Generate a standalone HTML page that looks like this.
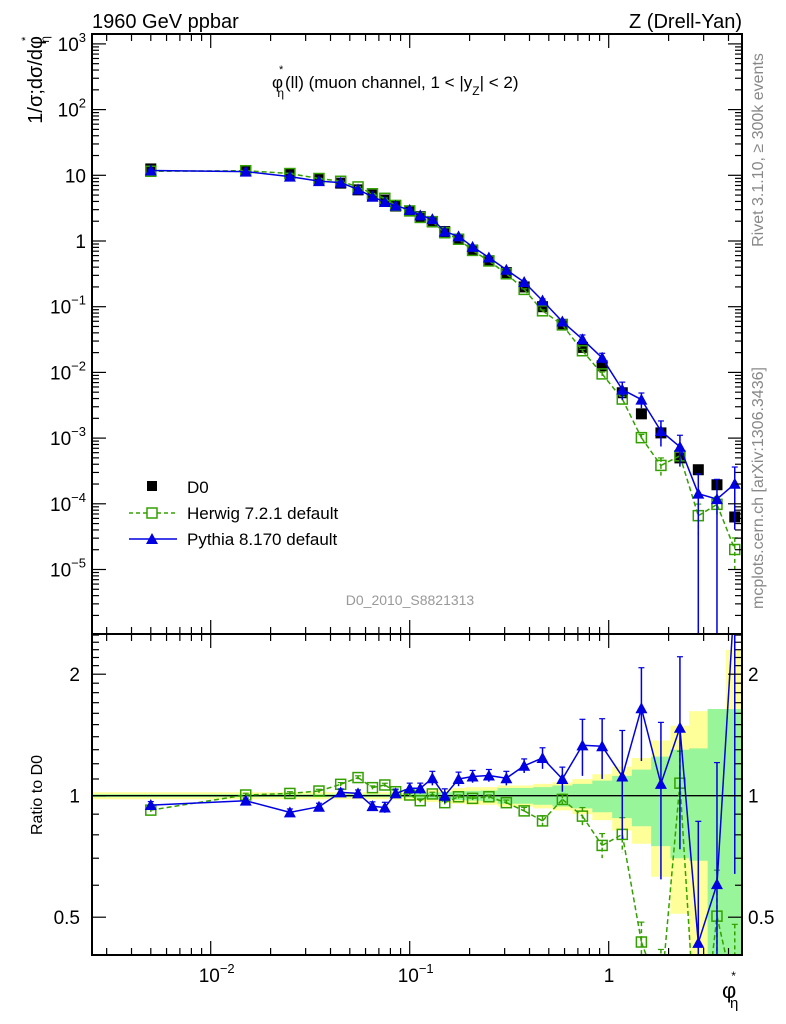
<!DOCTYPE html>
<html><head><meta charset="utf-8"><style>
html,body{margin:0;padding:0;background:#fff;overflow:hidden;}
svg{display:block;font-family:"Liberation Sans",sans-serif;}
</style></head><body>
<svg id="chart" width="786" height="1024" viewBox="0 0 786 1024">
<defs>
<clipPath id="cm"><rect x="92" y="34" width="650" height="600"/></clipPath>
<clipPath id="cr"><rect x="92" y="634" width="650" height="321"/></clipPath>
</defs>
<g id="bands" clip-path="url(#cr)"></g>
<g id="marks"></g>
<g id="axes"></g>
<text x="92" y="28" font-size="20">1960 GeV ppbar</text>
<text x="742" y="28" font-size="20" text-anchor="end">Z (Drell-Yan)</text>
<text x="272" y="88" font-size="17">φ<tspan dx="-4" dy="-15" font-size="11">*</tspan><tspan dx="-6" dy="24" font-size="12">η</tspan><tspan dx="1" dy="-9">(ll) (muon channel, 1 &lt; |y</tspan><tspan dy="7" font-size="12">Z</tspan><tspan dy="-7">| &lt; 2)</tspan></text>
<text x="410" y="605" font-size="14" fill="#999" text-anchor="middle">D0_2010_S8821313</text>
<text transform="translate(42,36) rotate(-90)" font-size="20" text-anchor="end">1/σ;dσ/dφ<tspan dx="-5" dy="-13" font-size="11">*</tspan><tspan dx="-6" dy="20" font-size="12">η</tspan></text>
<text transform="translate(42,795) rotate(-90)" font-size="16" text-anchor="middle">Ratio to D0</text>
<text transform="translate(763,150) rotate(-90)" font-size="16" fill="#888" text-anchor="middle">Rivet 3.1.10, ≥ 300k events</text>
<text transform="translate(763,488) rotate(-90)" font-size="16" fill="#888" text-anchor="middle">mcplots.cern.ch [arXiv:1306.3436]</text>
<text x="722" y="998" font-size="22">φ<tspan dx="-5" dy="-18" font-size="12">*</tspan><tspan dx="-6" dy="28" font-size="15">η</tspan></text>
<g>
<rect x="147" y="481" width="10" height="10" fill="#000"/>
<text x="187" y="493" font-size="17">D0</text>
<line x1="129" y1="513" x2="175" y2="513" stroke="#33a000" stroke-width="1.5" stroke-dasharray="4,3"/>
<rect x="147" y="508" width="10" height="10" fill="#fff" stroke="#33a000" stroke-width="1.5"/>
<text x="187" y="519" font-size="17">Herwig 7.2.1 default</text>
<line x1="129" y1="539" x2="177" y2="539" stroke="#0000e0" stroke-width="1.5"/>
<polygon points="146,544 158,544 152,533" fill="#0000e0"/>
<text x="187" y="545" font-size="17">Pythia 8.170 default</text>
</g>
</svg>
<script>
const xVals=[0.005,0.015,0.025,0.035,0.045,0.055,0.065,0.075,0.085,0.1,0.113,0.13,0.15,0.176,0.207,0.25,0.306,0.376,0.465,0.585,0.738,0.927,1.17,1.46,1.83,2.28,2.82,3.5,4.3];
const d0Vals=[12.5,11.7,10.5,8.7,7.6,6.0,5.0,4.2,3.4,2.86,2.35,1.95,1.39,1.07,0.73,0.50,0.33,0.20,0.10,0.054,0.024,0.0126,0.0049,0.00234,0.0012,0.0005,0.00033,0.000195,0.000063];
const d0Stat=[0.008,0.008,0.008,0.008,0.008,0.008,0.008,0.008,0.008,0.01,0.015,0.018,0.02,0.025,0.028,0.03,0.045,0.045,0.05,0.06,0.07,0.09,0.12,0.16,0.25,0.30,0.31,0.64,0.64];
const d0Tot=[0.02,0.02,0.02,0.02,0.02,0.02,0.02,0.02,0.022,0.025,0.03,0.035,0.04,0.045,0.05,0.05,0.06,0.06,0.07,0.08,0.10,0.13,0.18,0.24,0.37,0.49,0.62,0.62,1.3];
const herwigRatio=[0.921,1.004,1.013,1.027,1.067,1.109,1.047,1.063,1.023,1.004,0.972,1.01,0.961,0.994,0.985,0.994,0.961,0.917,0.866,0.979,0.89,0.753,0.802,0.434,0.32,1.074,0.2,0.503,0.32];
const herwigErr=[0.01,0.01,0.01,0.01,0.01,0.01,0.01,0.01,0.01,0.01,0.01,0.01,0.01,0.01,0.01,0.01,0.015,0.02,0.03,0.03,0.05,0.07,0.1,0.12,0.3,0.2,0.5,0.3,0.5];
const pythiaRatio=[0.948,0.972,0.909,0.939,1.019,1.013,0.942,0.935,1.013,1.043,1.043,1.105,1.0,1.10,1.116,1.122,1.105,1.186,1.24,1.10,1.333,1.326,1.116,1.647,1.07,1.473,0.432,0.604,3.2];
const pythiaErr=[0.02,0.015,0.02,0.02,0.02,0.02,0.025,0.03,0.025,0.03,0.03,0.04,0.04,0.04,0.035,0.035,0.04,0.04,0.06,0.07,0.16,0.17,0.3,0.26,0.42,0.5,1.0,1.0,0.8];
const yMainTicks=[[3,"10","3"],[2,"10","2"],[1,"10",""],[0,"1",""],[-1,"10","−1"],[-2,"10","−2"],[-3,"10","−3"],[-4,"10","−4"],[-5,"10","−5"]];
const xTicks=[[-2,"10","−2"],[-1,"10","−1"],[0,"1",""]];
const ratioTicks=[2,1,0.5];

const NS="http://www.w3.org/2000/svg";
const L=92,R=742,T=34,M=634,B=955;
const X=v=>210.7+199*(Math.log10(v)+2);
const Y=v=>175.3-65.7*(Math.log10(v)-1);
const YR=v=>795.7-121.5*Math.log2(v);
const clampY=(y,a,b)=>Math.max(a-2,Math.min(b+2,y));
function mk(tag,attrs,parent){const e=document.createElementNS(NS,tag);for(const k in attrs)e.setAttribute(k,attrs[k]);parent.appendChild(e);return e;}
function clipPath(pts,a,b){
  let d='';
  for(let i=0;i<pts.length-1;i++){
    let [x1,y1]=pts[i],[x2,y2]=pts[i+1];
    let t0=0,t1=1;const dy=y2-y1;
    if(dy!==0){
      const ta=(a-y1)/dy,tb=(b-y1)/dy;
      t0=Math.max(t0,Math.min(ta,tb));t1=Math.min(t1,Math.max(ta,tb));
    }else if(y1<a||y1>b)continue;
    if(t0>=t1)continue;
    const sx=x1+(x2-x1)*t0,sy=y1+dy*t0,ex=x1+(x2-x1)*t1,ey=y1+dy*t1;
    d+=`M${sx.toFixed(1)},${sy.toFixed(1)}L${ex.toFixed(1)},${ey.toFixed(1)}`;
  }
  return d;
}
const marks=document.getElementById('marks'),axes=document.getElementById('axes'),bands=document.getElementById('bands');
const gm=mk('g',{'clip-path':'url(#cm)'},marks);


const gr=mk('g',{'clip-path':'url(#cr)'},marks);



const edges=[];
edges.push(Math.pow(10,-2.62));
for(let i=0;i<xVals.length-1;i++)edges.push(Math.sqrt(xVals[i]*xVals[i+1]));
edges.push(5);
function band(errs,color,name){
  let pts=[];
  for(let i=0;i<xVals.length;i++){const y=clampY(YR(1+errs[i]),M,B);pts.push([X(edges[i]),y]);pts.push([Math.min(X(edges[i+1]),R),y]);}
  let low=[];
  for(let i=xVals.length-1;i>=0;i--){const y=clampY(YR(Math.max(1-errs[i],0.05)),M,B);low.push([Math.min(X(edges[i+1]),R),y]);low.push([X(edges[i]),y]);}
  const p=mk('polygon',{points:pts.concat(low).map(q=>q.join(',')).join(' '),fill:color},bands);
  
  
}
band(d0Tot,'#ffff99','total-uncertainty-band');
band(d0Stat,'#99f599','stat-uncertainty-band');
const one=mk('line',{x1:L,x2:R,y1:YR(1),y2:YR(1),stroke:'#000','stroke-width':1.3},gr);



const hw=xVals.map((x,i)=>d0Vals[i]*herwigRatio[i]);
const py=xVals.map((x,i)=>d0Vals[i]*pythiaRatio[i]);
function series(g,vals,errs,Yf,color,dash,marker,name,a,b){
  const pts=xVals.map((x,i)=>[X(x),Yf(vals[i])]);
  const pl=mk('path',{d:clipPath(pts,a-1,b+1),fill:'none',stroke:color,'stroke-width':1.5},g);
  if(dash)pl.setAttribute('stroke-dasharray','5,3');
  
  
  xVals.forEach((x,i)=>{
    const cx=X(x),v=vals[i],e=errs[i];
    const y1=clampY(Yf(v*(1+e)),a,b),y2=e>=0.99?b+1:clampY(Yf(v*(1-e)),a,b);
    const eb=mk('line',{x1:cx,x2:cx,y1:y1,y2:y2,stroke:color,'stroke-width':1.5},g);
    if(dash)eb.setAttribute('stroke-dasharray','4,3');
    
    
    mk('line',{x1:cx-3,x2:cx+3,y1:y1,y2:y1,stroke:color,'stroke-width':1.2},g);
    let m;
    const cy=Yf(v);
    if(cy<a-4||cy>b+4)return;
    if(marker==='tri'){m=mk('polygon',{points:`${cx-6},${cy+5} ${cx+6},${cy+5} ${cx},${cy-6}`,fill:color},g);}
    else{m=mk('rect',{x:cx-5,y:cy-5,width:10,height:10,fill:'none',stroke:color,'stroke-width':1.5},g);}
    
    
  });
}
xVals.forEach((x,i)=>{
  const r=mk('rect',{x:X(x)-5.5,y:Y(d0Vals[i])-5.5,width:11,height:11,fill:'#000'},gm);
  
  
});
series(gm,hw,herwigErr,Y,'#33a000',true,'sq','herwig',T,M);
series(gm,py,pythiaErr,Y,'#0000e0',false,'tri','pythia',T,M);
series(gr,herwigRatio,herwigErr,YR,'#33a000',true,'sq','herwig-ratio',M,B);
series(gr,pythiaRatio,pythiaErr,YR,'#0000e0',false,'tri','pythia-ratio',M,B);

[[T,M],[M,B]].forEach(([a,b],k)=>{
  const f=mk('rect',{x:L,y:a,width:R-L,height:b-a,fill:'none',stroke:'#000','stroke-width':2},axes);
  
  
});
for(let d=-3;d<=0;d++){for(let m=1;m<=9;m++){const v=m*Math.pow(10,d);const px=X(v);if(px<L||px>R)continue;const len=m===1?14:7;
  [[T,1],[M,-1],[M,1],[B,-1]].forEach(([y0,s])=>mk('line',{x1:px,x2:px,y1:y0,y2:y0+s*len,stroke:'#000','stroke-width':1.2},axes));}}
xTicks.forEach(t=>{const px=X(Math.pow(10,t[0]));
  const tx=mk('text',{x:px-(t[2]?12:5),y:982,'font-size':19},axes);tx.textContent=t[1];
  
  
  if(t[2]){const s=mk('tspan',{dy:-9,'font-size':13},tx);s.textContent=t[2];}
});
for(let d=-6;d<=3;d++){for(let m=1;m<=9;m++){const v=m*Math.pow(10,d);const py_=Y(v);if(py_<T||py_>M)continue;const len=m===1?14:7;
  mk('line',{x1:L,x2:L+len,y1:py_,y2:py_,stroke:'#000','stroke-width':1.2},axes);
  mk('line',{x1:R,x2:R-len,y1:py_,y2:py_,stroke:'#000','stroke-width':1.2},axes);}}
yMainTicks.forEach(t=>{const py_=Y(Math.pow(10,t[0]));
  const tx=mk('text',{x:86,y:py_+7,'font-size':19,'text-anchor':'end'},axes);
  
  
  const a=mk('tspan',{},tx);a.textContent=t[1];
  if(t[2]){const s=mk('tspan',{dy:-9,'font-size':13},tx);s.textContent=t[2];}
});
for(let v=0.4;v<=2.6;v+=0.1){const py_=YR(v);if(py_<M||py_>B)continue;const maj=[0.5,1,2].some(q=>Math.abs(q-v)<1e-6);const len=maj?14:7;
  mk('line',{x1:L,x2:L+len,y1:py_,y2:py_,stroke:'#000','stroke-width':1.2},axes);
  mk('line',{x1:R,x2:R-len,y1:py_,y2:py_,stroke:'#000','stroke-width':1.2},axes);}
ratioTicks.forEach(v=>{const py_=YR(v);
  const a=mk('text',{x:80,y:py_+7,'font-size':19,'text-anchor':'end'},axes);a.textContent=String(v);
  
  
  const b=mk('text',{x:748,y:py_+7,'font-size':19},axes);b.textContent=String(v);
  
  
});
</script>
</body></html>
